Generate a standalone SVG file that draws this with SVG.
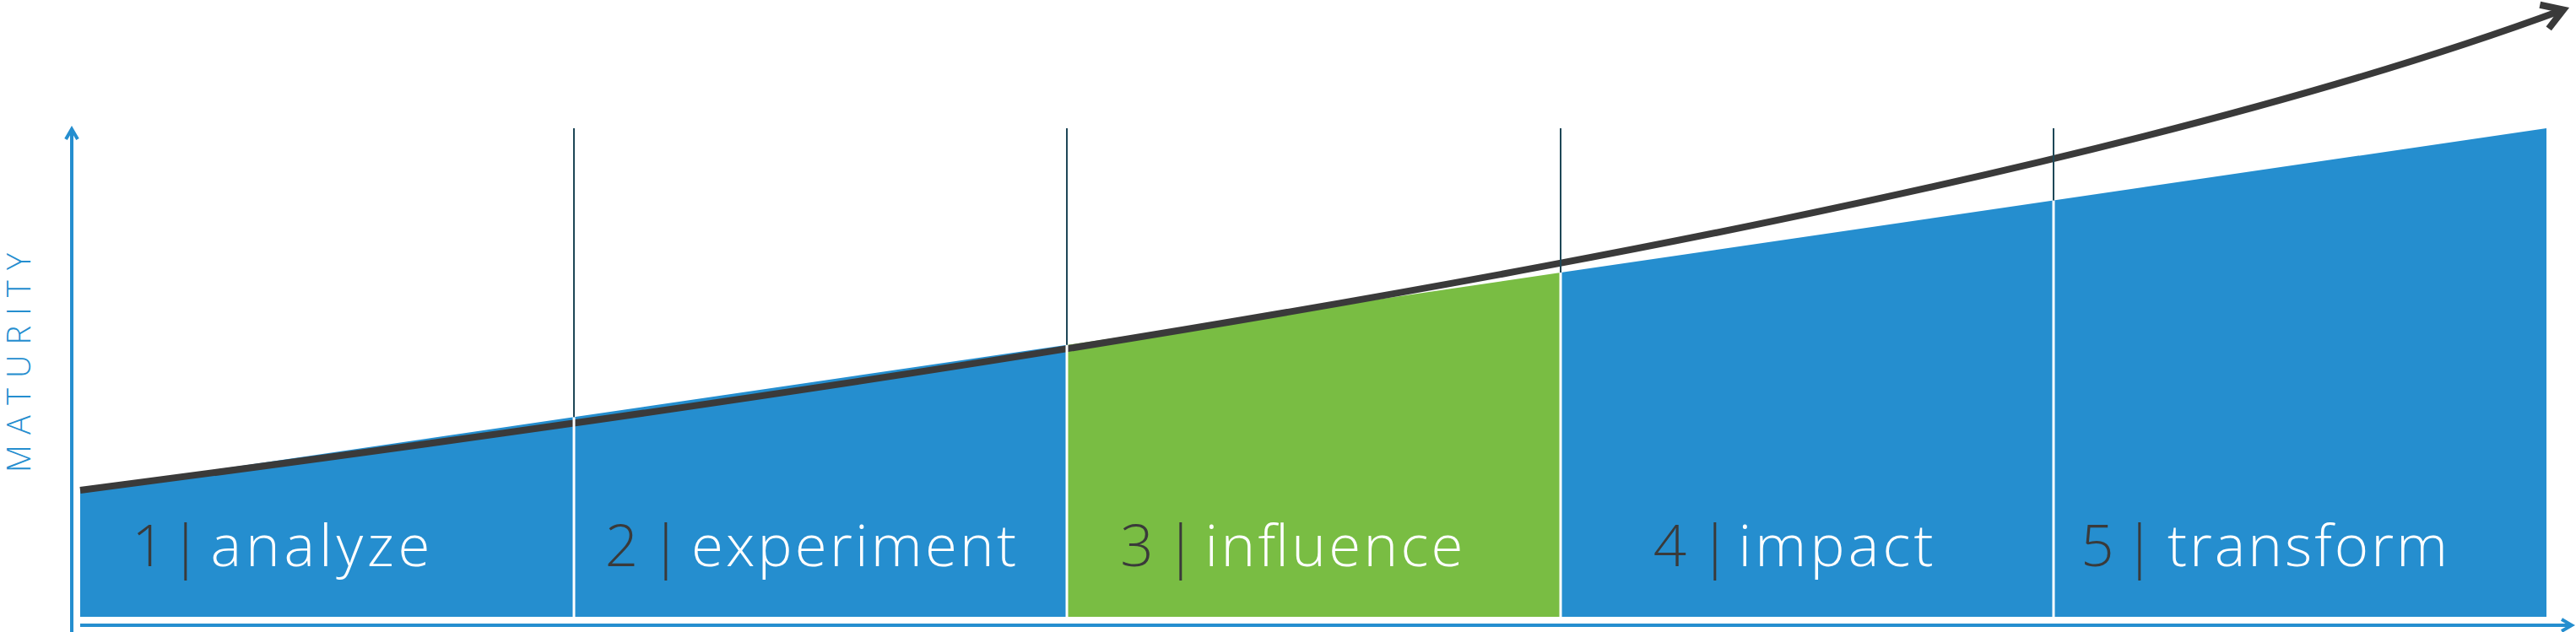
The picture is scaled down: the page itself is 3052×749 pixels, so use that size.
<svg xmlns="http://www.w3.org/2000/svg" width="3052" height="749" viewBox="0 0 3052 749">
  <style>
    .blue { fill: #258ecf; }
    .green { fill: #79bd43; }
    .label { font-family: "Open Sans", "Liberation Sans", sans-serif; font-weight: 300; font-size: 69px; }
    .num { fill: #3a3a3a; text-anchor: middle; }
    .word { fill: #ffffff; }
    .axis { stroke: #258ecf; stroke-width: 4; fill: none; }
    .divider-top { stroke: #1e4757; stroke-width: 2; }
    .divider-in { stroke: #ffffff; stroke-width: 3; }
    .curve { stroke: #3a3a3a; stroke-width: 8; fill: none; }
    .axis-title { font-family: "Open Sans", "Liberation Sans", sans-serif; font-weight: 300; font-size: 38px; fill: #258ecf; }
  </style>
  <defs>
    <marker id="axisArrow" markerUnits="userSpaceOnUse" orient="auto" refX="0" refY="0" markerWidth="40" markerHeight="40" viewBox="-20 -20 40 40" overflow="visible">
      <path d="M-12,-7 L0,0 L-12,7" fill="none" stroke="#258ecf" stroke-width="4"/>
    </marker>
    <marker id="curveArrow" markerUnits="userSpaceOnUse" orient="auto" refX="0" refY="0" markerWidth="80" markerHeight="80" viewBox="-40 -40 80 80" overflow="visible">
      <path d="M-24,-15 L0,0 L-24,15" fill="none" stroke="#3a3a3a" stroke-width="8" stroke-linejoin="miter" stroke-miterlimit="10"/>
    </marker>
  </defs>

  <g id="stage-1">
    <polygon class="blue" points="95,580 680,494.3 680,731 95,731"/>
    <text class="label" y="671"><tspan class="num" x="176">1</tspan><tspan class="num" x="220">|</tspan><tspan class="word" x="249.5" textLength="260" lengthAdjust="spacing">analyze</tspan></text>
  </g>
  <g id="stage-2">
    <polygon class="blue" points="680,494.3 1264,408.8 1264,731 680,731"/>
    <text class="label" y="671"><tspan class="num" x="736.5">2</tspan><tspan class="num" x="789">|</tspan><tspan class="word" x="819" textLength="385" lengthAdjust="spacing">experiment</tspan></text>
  </g>
  <g id="stage-3">
    <polygon class="green" points="1264,408.8 1849,323.1 1849,731 1264,731"/>
    <text class="label" y="671"><tspan class="num" x="1347">3</tspan><tspan class="num" x="1399">|</tspan><tspan class="word" x="1427.5" textLength="306" lengthAdjust="spacing">influence</tspan></text>
  </g>
  <g id="stage-4">
    <polygon class="blue" points="1849,323.1 2433,237.5 2433,731 1849,731"/>
    <text class="label" y="671"><tspan class="num" x="1978.5">4</tspan><tspan class="num" x="2032">|</tspan><tspan class="word" x="2059.5" textLength="231" lengthAdjust="spacing">impact</tspan></text>
  </g>
  <g id="stage-5">
    <polygon class="blue" points="2433,237.5 3017,152 3017,731 2433,731"/>
    <text class="label" y="671"><tspan class="num" x="2485">5</tspan><tspan class="num" x="2535">|</tspan><tspan class="word" x="2568" textLength="332" lengthAdjust="spacing">transform</tspan></text>
  </g>

  <g id="connectors">
    <path id="growth-curve" class="curve" d="M95,581 C1395,412 2444,231 3037,11.5" marker-end="url(#curveArrow)"/>
    <line class="divider-in" x1="680" y1="494.3" x2="680" y2="731"/>
    <line class="divider-in" x1="1264" y1="408.8" x2="1264" y2="731"/>
    <line class="divider-in" x1="1849" y1="323.1" x2="1849" y2="731"/>
    <line class="divider-in" x1="2433" y1="237.5" x2="2433" y2="731"/>
    <line class="divider-top" x1="680" y1="152" x2="680" y2="494.3"/>
    <line class="divider-top" x1="1264" y1="152" x2="1264" y2="408.8"/>
    <line class="divider-top" x1="1849" y1="152" x2="1849" y2="323.1"/>
    <line class="divider-top" x1="2433" y1="152" x2="2433" y2="237.5"/>
    <line id="x-axis" class="axis" x1="95" y1="741" x2="3047" y2="741" marker-end="url(#axisArrow)"/>
    <line id="y-axis" class="axis" x1="85" y1="749" x2="85" y2="153" marker-end="url(#axisArrow)"/>
  </g>

  <g id="axis-label">
    <text class="axis-title" transform="translate(36,430) rotate(-90)" text-anchor="middle" textLength="260" lengthAdjust="spacing">MATURITY</text>
  </g>
</svg>
